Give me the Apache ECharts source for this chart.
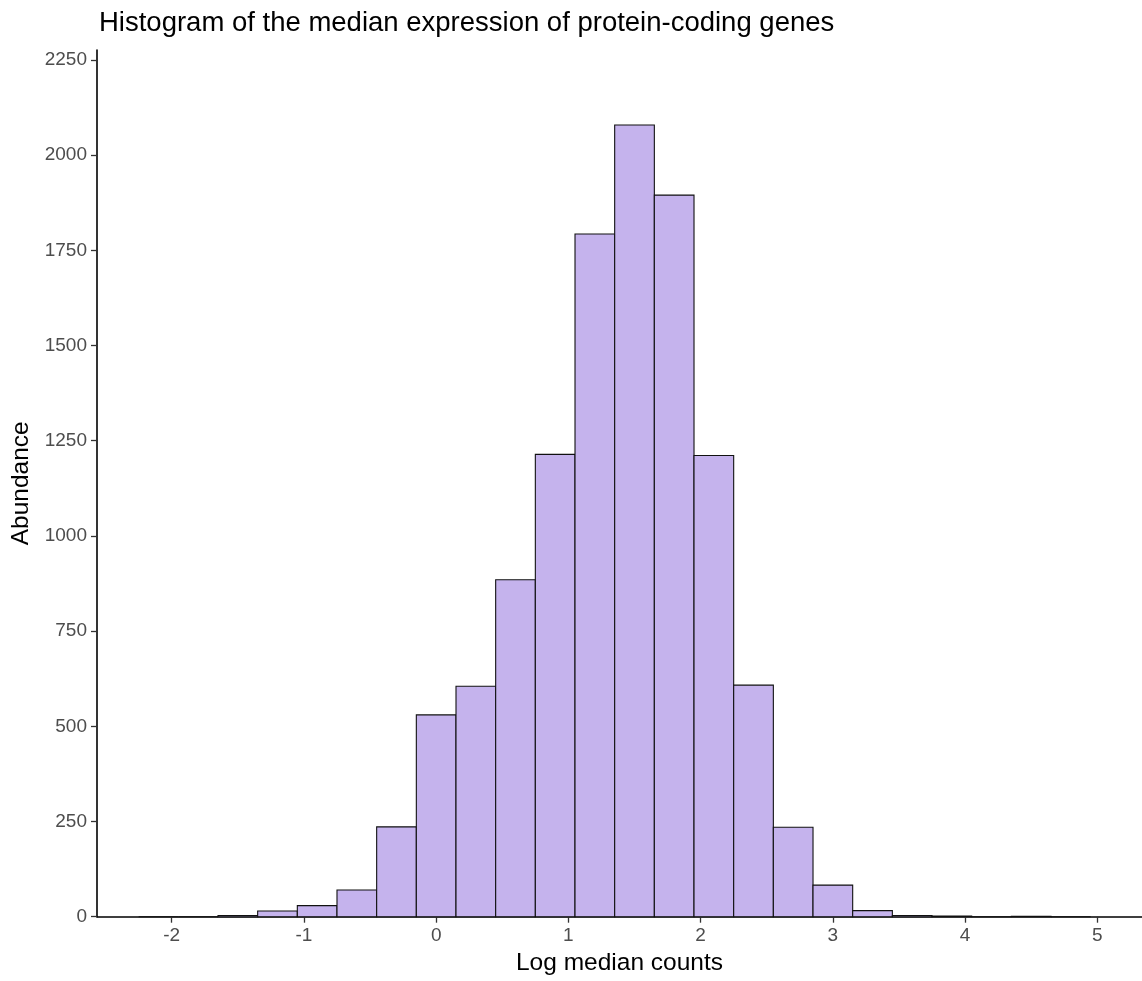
<!DOCTYPE html>
<html><head><meta charset="utf-8">
<script src="https://cdn.jsdelivr.net/npm/echarts@6/dist/echarts.min.js"></script>
<style>html,body{margin:0;padding:0;background:#fff}#c{width:1142px;height:981px}</style>
</head><body><div id="c"></div>
<script>
const binCenters = [-2.1,-1.8,-1.5,-1.2,-0.9,-0.6,-0.3,0,0.3,0.6,0.9,1.2,1.5,1.8,2.1,2.4,2.7,3.0,3.3,3.6,3.9,4.2,4.5,4.8];
const counts     = [0,0,3,15,29,70,236,530,605,885,1214,1793,2079,1895,1211,608,235,83,16,3,2,0,1,0];
const binWidth = 0.3;
const xTicks = [-2,-1,0,1,2,3,4,5];
const yTicks = [0,250,500,750,1000,1250,1500,1750,2000,2250];
const titleText = 'Histogram of the median expression of protein-coding genes';
const xName = 'Log median counts';
const yName = 'Abundance';

const FONT = "'Liberation Sans', Arial, sans-serif";
const data = binCenters.map((c, i) => [c, counts[i]]);

const chart = echarts.init(document.getElementById('c'), null, {renderer: 'canvas'});
chart.setOption({
  backgroundColor: '#fff',
  animation: false,
  textStyle: {fontFamily: FONT},
  title: {
    text: titleText, left: 94, top: 4,
    textStyle: {fontFamily: FONT, fontSize: 27.5, fontWeight: 'normal', color: '#000'}
  },
  grid: {left: 97, right: 0, top: 50, bottom: 64.3, containLabel: false},
  xAxis: {
    type: 'value', min: -2.565, max: 5.338,
    axisLine: {onZero: false, lineStyle: {color: '#000', width: 1.6}},
    axisTick: {customValues: xTicks, length: 6, lineStyle: {color: '#333', width: 1.3}},
    axisLabel: {customValues: xTicks, color: '#4d4d4d', fontSize: 19, margin: 10, fontFamily: FONT,
      formatter: v => String(v)},
    splitLine: {show: false},
    name: xName, nameLocation: 'middle', nameGap: 33,
    nameTextStyle: {fontSize: 24.5, color: '#000', fontFamily: FONT}
  },
  yAxis: {
    type: 'value', min: 0, max: 2276,
    axisLine: {show: true, onZero: false, lineStyle: {color: '#000', width: 1.6}},
    axisTick: {show: true, customValues: yTicks, length: 6, lineStyle: {color: '#333', width: 1.3}},
    axisLabel: {customValues: yTicks, color: '#4d4d4d', fontSize: 19, margin: 10, fontFamily: FONT,
      formatter: v => String(v)},
    splitLine: {show: false},
    name: yName, nameLocation: 'middle', nameGap: 61, nameRotate: 90,
    nameTextStyle: {fontSize: 24.5, color: '#000', fontFamily: FONT}
  },
  series: [{
    type: 'custom',
    data: data,
    encode: {x: 0, y: 1},
    renderItem: function (params, api) {
      const c = api.value(0), v = api.value(1);
      const p0 = api.coord([c - binWidth / 2, v]);
      const p1 = api.coord([c + binWidth / 2, 0]);
      return {
        type: 'rect',
        shape: {x: p0[0], y: p0[1], width: p1[0] - p0[0], height: p1[1] - p0[1]},
        style: {fill: '#C5B3ED', stroke: '#111', lineWidth: 1.1}
      };
    }
  }]
});
</script></body></html>
